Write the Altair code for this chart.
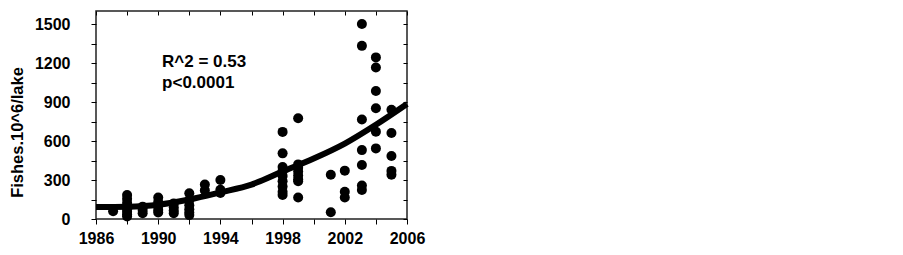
import altair as alt
import pandas as pd

# Scatter data: year -> observed values (Fishes.10^6/lake)
obs_1987 = [60]
obs_1988 = [185, 155, 125, 100, 75, 55, 35, 20]
obs_1989 = [95, 70, 45]
obs_1990 = [165, 130, 100, 70, 50]
obs_1991 = [120, 90, 65, 45]
obs_1992 = [198, 145, 105, 75, 50, 30]
obs_1993 = [265, 220]
obs_1994 = [300, 225, 200]
obs_1998 = [670, 505, 400, 370, 330, 290, 250, 210, 185]
obs_1999 = [775, 420, 395, 365, 335, 305, 290, 165]
obs_2001 = [340, 52]
obs_2002 = [372, 210, 165]
obs_2003 = [1500, 1332, 765, 530, 415, 258, 223]
obs_2004 = [1243, 1165, 985, 852, 672, 543]
obs_2005 = [840, 662, 485, 370, 340]

obs_by_year = {
    1987.1: obs_1987, 1988: obs_1988, 1989: obs_1989, 1990: obs_1990,
    1991: obs_1991, 1992: obs_1992, 1993: obs_1993, 1994: obs_1994,
    1998: obs_1998, 1999: obs_1999, 2001.1: obs_2001, 2002: obs_2002,
    2003.1: obs_2003, 2004: obs_2004, 2005: obs_2005,
}

# Fitted curve
fit_year = [1986, 1988, 1990, 1992, 1994, 1996, 1998, 2000, 2002, 2004, 2006]
fit_value = [92, 95, 110, 150, 205, 265, 365, 465, 580, 725, 885]

# Annotation
note_text = ["R^2 = 0.53", "p<0.0001"]
note_year = [1990.25, 1990.25]
note_value = [1170, 1005]

x_ticks = list(range(1986, 2007, 2))
y_ticks = list(range(0, 1501, 150))

rows = [{"year": y, "value": v} for y, vals in obs_by_year.items() for v in vals]
pts = pd.DataFrame(rows)
fit = pd.DataFrame({"year": fit_year, "value": fit_value})
notes = pd.DataFrame({"year": note_year, "value": note_value, "text": note_text})

FONT = "Liberation Sans"
xscale = alt.Scale(domain=[1986, 2006], nice=False, zero=False)
yscale = alt.Scale(domain=[0, 1600], nice=False)

points = alt.Chart(pts).mark_circle(size=100, color="black", opacity=1).encode(
    x=alt.X("year:Q", scale=xscale,
            axis=alt.Axis(values=x_ticks, format="d", title=None, grid=False, domain=False,
                          tickColor="black", tickSize=5, labelFont=FONT, labelFontSize=16,
                          labelFontWeight="bold", labelColor="black", labelPadding=6,
                          labelExpr="(datum.value - 1986) % 4 == 0 ? datum.label : ''",
                          labelFlush=False, labelOverlap=False)),
    y=alt.Y("value:Q", scale=yscale,
            axis=alt.Axis(values=y_ticks, format="d", title="Fishes.10^6/lake", grid=False,
                          domain=False, tickColor="black", tickSize=5, labelFont=FONT,
                          labelFontSize=16, labelFontWeight="bold", labelColor="black",
                          labelPadding=21, labelOverlap=False,
                          labelExpr="datum.value % 300 == 0 ? datum.label : ''",
                          titleFont=FONT, titleFontSize=16.5, titleFontWeight="bold",
                          titleColor="black", titleX=-71, titleY=121)),
)

curve = alt.Chart(fit).mark_line(color="black", strokeWidth=6, interpolate="monotone").encode(
    x=alt.X("year:Q", scale=xscale,
            axis=alt.Axis(orient="top", values=x_ticks, labels=False, title=None, grid=False,
                          domain=False, tickColor="black", tickSize=4, offset=-4)),
    y=alt.Y("value:Q", scale=yscale,
            axis=alt.Axis(orient="right", values=y_ticks, labels=False, title=None, grid=False,
                          domain=False, tickColor="black", tickSize=4, offset=-4)),
)

text = alt.Chart(notes).mark_text(align="left", baseline="alphabetic", font=FONT,
                                  fontSize=17, fontWeight="bold", color="black").encode(
    x=alt.X("year:Q", scale=xscale, axis=None),
    y=alt.Y("value:Q", scale=yscale, axis=None),
    text="text:N",
)

chart = alt.layer(points, curve, text).resolve_axis(x="independent", y="independent").properties(
    width=311, height=208,
    autosize=alt.AutoSizeParams(type="none"),
    padding={"left": 88, "top": 3, "right": 40, "bottom": 36},
    background="white",
).configure_view(stroke="#222", strokeWidth=1.5)

chart.save("out.html", embed_options={"renderer": "svg", "actions": False})
